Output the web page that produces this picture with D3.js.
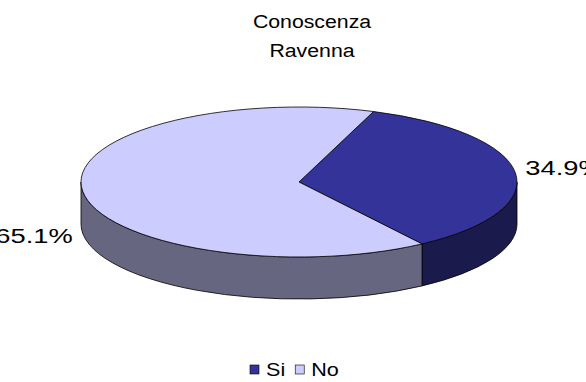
<!DOCTYPE html>
<html>
<head>
<meta charset="utf-8">
<script src="https://cdn.jsdelivr.net/npm/d3@7/dist/d3.min.js"></script>
<style>
  html, body { margin: 0; padding: 0; background: #fff; }
  svg { display: block; }
  text { font-family: "Liberation Sans", Arial, sans-serif; fill: #000; }
</style>
</head>
<body>
<svg id="chart" width="586" height="382"></svg>
<script>
const titleLines = ["Conoscenza", "Ravenna"];
const categories = ["Si", "No"];
const values = [34.9, 65.1];
const labels = ["34.9%", "65.1%"];
const topColors = ["#333399", "#CCCCFF"];
const sideColors = ["#1A1A4D", "#666680"];

const svg = d3.select("#chart");
const cx = 299, cy = 182, rx = 218, ry = 75, depth = 42;
const start = 20 * Math.PI / 180;

const pie = d3.pie().sort(null).value(d => d.v)
  .startAngle(start).endAngle(start + 2 * Math.PI);
const arcs = pie(values.map((v, i) => ({ v, i })));

const px = a => cx + rx * Math.sin(a);
const py = (a, dy = 0) => cy - ry * Math.cos(a) + dy;

function sector(a0, a1) {
  const large = (a1 - a0) > Math.PI ? 1 : 0;
  return `M${cx},${cy}L${px(a0)},${py(a0)}A${rx},${ry} 0 ${large} 1 ${px(a1)},${py(a1)}Z`;
}
function side(a0, a1) {
  const large = (a1 - a0) > Math.PI ? 1 : 0;
  return `M${px(a0)},${py(a0)}A${rx},${ry} 0 ${large} 1 ${px(a1)},${py(a1)}` +
         `L${px(a1)},${py(a1, depth)}A${rx},${ry} 0 ${large} 0 ${px(a0)},${py(a0, depth)}Z`;
}

const sides = [];
arcs.forEach(a => {
  [0, 2 * Math.PI].forEach(off => {
    const lo = Math.max(a.startAngle, Math.PI / 2 + off);
    const hi = Math.min(a.endAngle, 3 * Math.PI / 2 + off);
    if (hi > lo) sides.push({ i: a.data.i, a0: lo, a1: hi });
  });
});

svg.append("g").selectAll("path").data(sides).join("path")
  .attr("d", d => side(d.a0, d.a1))
  .attr("fill", d => sideColors[d.i])
  .attr("stroke", "#000").attr("stroke-width", 0.8).attr("stroke-linejoin", "round");

svg.append("g").selectAll("path").data(arcs).join("path")
  .attr("d", d => sector(d.startAngle, d.endAngle))
  .attr("fill", d => topColors[d.data.i])
  .attr("stroke", "#000").attr("stroke-width", 0.8).attr("stroke-linejoin", "round");

// data labels (horizontally stretched like the source)
const sx = 1.3;
svg.append("g").selectAll("text").data(arcs).join("text")
  .attr("transform", d => {
    const m = (d.startAngle + d.endAngle) / 2;
    const right = Math.sin(m) > 0;
    const x = px(m) + (right ? 10 : -10);
    const y = py(m) + (Math.cos(m) < 0 ? depth + 10 : 2);
    return `translate(${x},${y}) scale(${sx},1)`;
  })
  .attr("text-anchor", d => Math.sin((d.startAngle + d.endAngle) / 2) > 0 ? "start" : "end")
  .attr("font-size", 21)
  .text(d => labels[d.data.i]);

// title
svg.append("g").selectAll("text").data(titleLines).join("text")
  .attr("transform", (d, i) => `translate(312,${28 + i * 29}) scale(1.12,1)`)
  .attr("text-anchor", "middle").attr("font-size", 19)
  .text(d => d);

// legend
const leg = svg.append("g").attr("transform", "translate(250,363)");
let xoff = 0;
categories.forEach((c, i) => {
  const g = leg.append("g").attr("transform", `translate(${xoff},0)`);
  g.append("rect").attr("x", 0).attr("y", 2).attr("width", 9).attr("height", 9)
    .attr("fill", topColors[i]).attr("stroke", "#000").attr("stroke-width", 0.6);
  const t = g.append("text").attr("transform", "translate(16,13) scale(1.2,1)")
    .attr("font-size", 18).text(c);
  xoff += 16 + t.node().getComputedTextLength() * 1.2 + 10;
});
</script>
</body>
</html>
